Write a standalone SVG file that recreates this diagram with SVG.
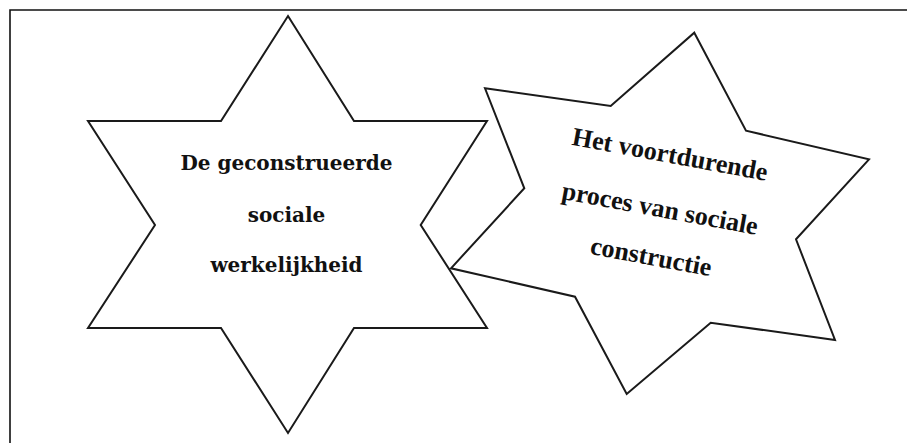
<svg xmlns="http://www.w3.org/2000/svg" width="907" height="443" viewBox="0 0 907 443">
  <style>
    .frame { fill: none; stroke: #111; stroke-width: 1.6; }
    .star { fill: #fff; stroke: #1a1a1a; stroke-width: 2; stroke-linejoin: miter; }
    .lbl-a { font-family: "DejaVu Serif", "Liberation Serif", serif; font-weight: bold; font-size: 20px; fill: #111; text-anchor: middle; }
    .lbl-b { font-family: "Liberation Serif", "Times New Roman", serif; font-weight: bold; font-size: 26px; fill: #111; text-anchor: middle; }
  </style>
  <rect width="907" height="443" fill="#fff"/>
  <!-- page frame: only top and left edges are visible -->
  <path class="frame" d="M10,443 V10 H907"/>

  <!-- six-pointed star: constructed social reality -->
  <g id="star-reality">
    <polygon class="star" points="288,16 354,121 487,121 420.7,225 487,328 354,328 288,433 221,328 88,328 155,225 88,121 221,121"/>
    <text class="lbl-a" x="286.5" y="170">De geconstrueerde</text>
    <text class="lbl-a" x="286.5" y="221.5">sociale</text>
    <text class="lbl-a" x="286.5" y="272">werkelijkheid</text>
  </g>

  <!-- tilted six-pointed star: ongoing process of social construction -->
  <g id="star-process">
    <polygon class="star" points="694.3,32.7 746,130.7 869,159.3 796,239.3 835,340 710.7,322.7 626.7,394 575,296.7 451,268.3 524.3,188.3 485,88.3 610.7,106"/>
    <g transform="translate(660,214) rotate(10.5)">
      <text class="lbl-b" x="-1" y="-52">Het voortdurende</text>
      <text class="lbl-b" x="-1" y="3">proces van sociale</text>
      <text class="lbl-b" x="-1" y="52">constructie</text>
    </g>
  </g>

  <!-- the stars only touch at a tip; no connector lines are drawn -->
  <g id="connectors"/>
</svg>
